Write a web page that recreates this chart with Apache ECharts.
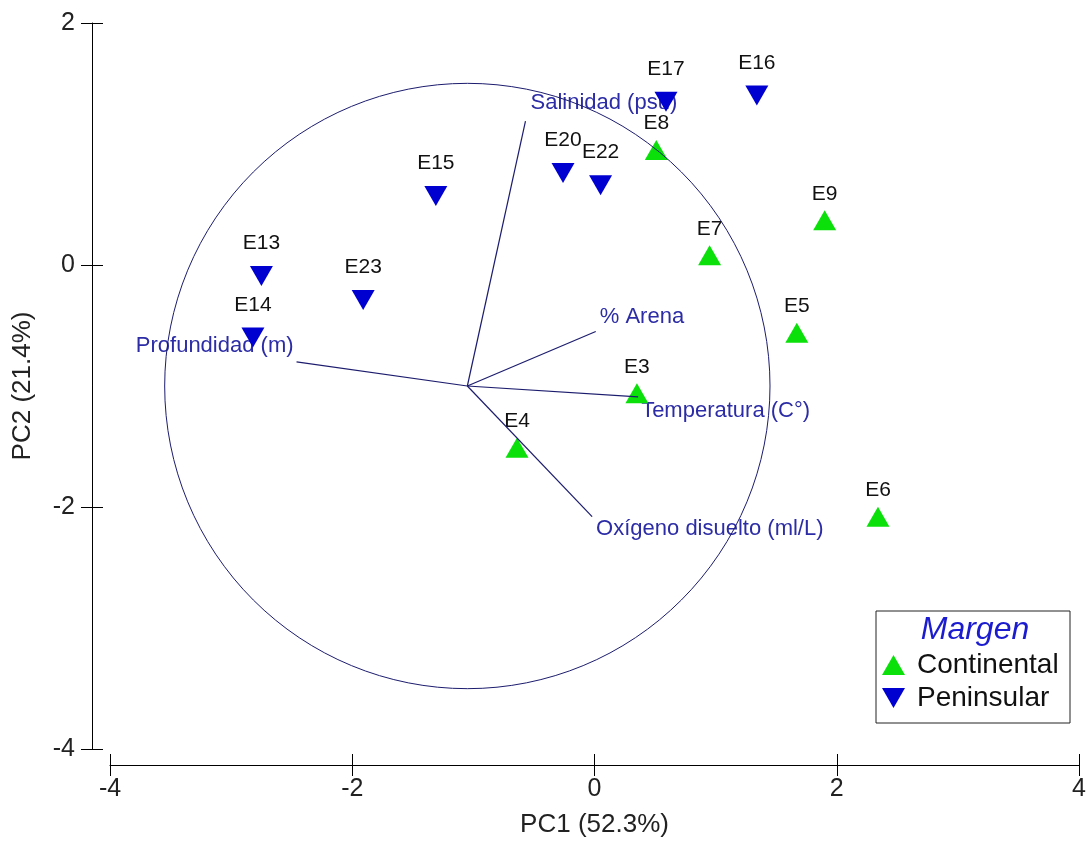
<!DOCTYPE html>
<html>
<head>
<meta charset="utf-8">
<script src="https://cdn.jsdelivr.net/npm/echarts@6/dist/echarts.min.js"></script>
<style>
html,body{margin:0;padding:0;background:#fff;}
#chart{width:1089px;height:843px;}
</style>
</head>
<body>
<div id="chart"></div>
<script>
// ---- data ----
const contNames = ['E3','E4','E5','E6','E7','E8','E9'];
const contPC1   = [0.35,-0.64,1.67,2.34,0.95,0.51,1.90];
const contPC2   = [-1.06,-1.51,-0.56,-2.08,0.08,0.95,0.37];

const penNames = ['E13','E14','E15','E16','E17','E20','E22','E23'];
const penPC1   = [-2.75,-2.82,-1.31,1.34,0.59,-0.26,0.05,-1.91];
const penPC2   = [-0.09,-0.60,0.57,1.40,1.35,0.76,0.66,-0.29];

const vectorNames = ['Salinidad (psu)','Profundidad (m)','% Arena','Temperatura (C°)','Oxígeno disuelto (ml/L)'];
const vectorPC1   = [-0.57,-2.46,0.01,0.36,-0.02];
const vectorPC2   = [1.19,-0.80,-0.55,-1.09,-2.08];
const vectorOrigin = [-1.05,-1.0];
const circleRadius = 2.5;

const xTicks = [-4,-2,0,2,4];
const yTicks = [-4,-2,0,2];
const xTitle = 'PC1 (52.3%)';
const yTitle = 'PC2 (21.4%)';
const legendTitle = 'Margen';
const groupNames = ['Continental','Peninsular'];

// ---- styles ----
const FONT = "'Liberation Sans', Arial, sans-serif";
const GREEN = '#0be00b';
const BLUE = '#0000d0';
const NAVY = '#1c1c6e';
const VTEXT = '#2c2ca6';
// label offsets for vector labels [dx, dy, align]
const vecLabelStyle = [[5,-18,'left'],[-3,-16,'right'],[4,-15,'left'],[3,14,'left'],[4,12,'left']];
const DOWN_TRI = 'path://M0,0L2,0L1,1.74Z';

const contData = contNames.map((n,i)=>({name:n,value:[contPC1[i],contPC2[i]]}));
const penData = penNames.map((n,i)=>({name:n,value:[penPC1[i],penPC2[i]]}));
const vecData = vectorNames.map((n,i)=>[vectorPC1[i],vectorPC2[i],i]);

const chart = echarts.init(document.getElementById('chart'), null, {renderer:'canvas'});

const axisCommonX = {type:'value', min:xTicks[0], max:xTicks[xTicks.length-1], interval:2, position:'bottom', offset:16, splitLine:{show:false}};
const axisCommonY = {type:'value', min:yTicks[0], max:yTicks[yTicks.length-1], interval:2, position:'left', offset:18, splitLine:{show:false}};

const option = {
  backgroundColor:'#fff',
  animation:false,
  grid:{left:110,right:9,top:23,bottom:94,containLabel:false},
  xAxis:[
    Object.assign({}, axisCommonX, {
      name:xTitle, nameLocation:'middle', nameGap:47,
      nameTextStyle:{fontFamily:FONT,fontSize:26,color:'#222'},
      axisLine:{show:true,onZero:false,lineStyle:{color:'#000',width:1}},
      axisTick:{show:true,inside:false,length:11,lineStyle:{color:'#000'}},
      axisLabel:{show:true,margin:12,fontFamily:FONT,fontSize:25,color:'#222'}
    }),
    Object.assign({}, axisCommonX, {
      axisLine:{show:false,onZero:false},
      axisTick:{show:true,inside:true,length:11,lineStyle:{color:'#000'}},
      axisLabel:{show:false}
    })
  ],
  yAxis:[
    Object.assign({}, axisCommonY, {
      name:yTitle, nameLocation:'middle', nameGap:56,
      nameTextStyle:{fontFamily:FONT,fontSize:26,color:'#222'},
      axisLine:{show:true,onZero:false,lineStyle:{color:'#000',width:1}},
      axisTick:{show:true,inside:false,length:11,lineStyle:{color:'#000'}},
      axisLabel:{show:true,margin:17,fontFamily:FONT,fontSize:25,color:'#222'}
    }),
    Object.assign({}, axisCommonY, {
      axisLine:{show:false,onZero:false},
      axisTick:{show:true,inside:true,length:11,lineStyle:{color:'#000'}},
      axisLabel:{show:false}
    })
  ],
  legend:{
    data:groupNames,
    orient:'vertical',
    left:882, top:651,
    z:20,
    itemWidth:23, itemHeight:20, itemGap:5,
    padding:0,
    textStyle:{fontFamily:FONT,fontSize:28,color:'#111',padding:[0,0,0,7]},
    selectedMode:false
  },
  graphic:[
    {type:'rect', z:1, shape:{x:876,y:611,width:194,height:112}, style:{fill:'#fff',stroke:'#222',lineWidth:1}, silent:true},
    {type:'text', z:2, x:975, y:630, style:{text:legendTitle, fontFamily:FONT, fontSize:32, fontStyle:'italic', fill:'#1b1bd0', align:'center', verticalAlign:'middle'}}
  ],
  series:[
    {
      name:'vecLabels', type:'custom', z:1, silent:true,
      data:vecData,
      encode:{x:0,y:1},
      renderItem:(params, api)=>{
        const p = api.coord([api.value(0), api.value(1)]);
        const idx = api.value(2);
        const st = vecLabelStyle[idx];
        return {type:'text', style:{x:p[0]+st[0], y:p[1]+st[1], text:vectorNames[idx], align:st[2], verticalAlign:'middle', fill:VTEXT, fontFamily:FONT, fontSize:22}};
      }
    },
    {
      name:groupNames[0], type:'scatter', z:2,
      symbol:'triangle', symbolSize:[23,20],
      itemStyle:{color:GREEN, opacity:1},
      data:contData,
      label:{show:true, position:'top', distance:6, formatter:'{b}', fontFamily:FONT, fontSize:21, color:'#111'}
    },
    {
      name:groupNames[1], type:'scatter', z:2,
      symbol:DOWN_TRI, symbolSize:[23,20],
      itemStyle:{color:BLUE, opacity:1},
      data:penData,
      label:{show:true, position:'top', distance:12, formatter:'{b}', fontFamily:FONT, fontSize:21, color:'#111'}
    },
    {
      name:'vecLines', type:'custom', z:3, silent:true,
      data:vecData,
      encode:{x:0,y:1},
      renderItem:(params, api)=>{
        const o = api.coord(vectorOrigin);
        const p = api.coord([api.value(0), api.value(1)]);
        return {type:'line', shape:{x1:o[0],y1:o[1],x2:p[0],y2:p[1]}, style:{stroke:NAVY, lineWidth:1.2}};
      }
    },
    {
      name:'circle', type:'custom', z:3, silent:true,
      data:[[vectorOrigin[0], vectorOrigin[1], circleRadius]],
      encode:{x:0,y:1},
      renderItem:(params, api)=>{
        const c = api.coord([api.value(0), api.value(1)]);
        const r = api.size([api.value(2), api.value(2)]);
        return {type:'circle', shape:{cx:c[0],cy:c[1],r:(r[0]+r[1])/2}, style:{fill:'none', stroke:NAVY, lineWidth:1}};
      }
    }
  ]
};
chart.setOption(option);
</script>
</body>
</html>
